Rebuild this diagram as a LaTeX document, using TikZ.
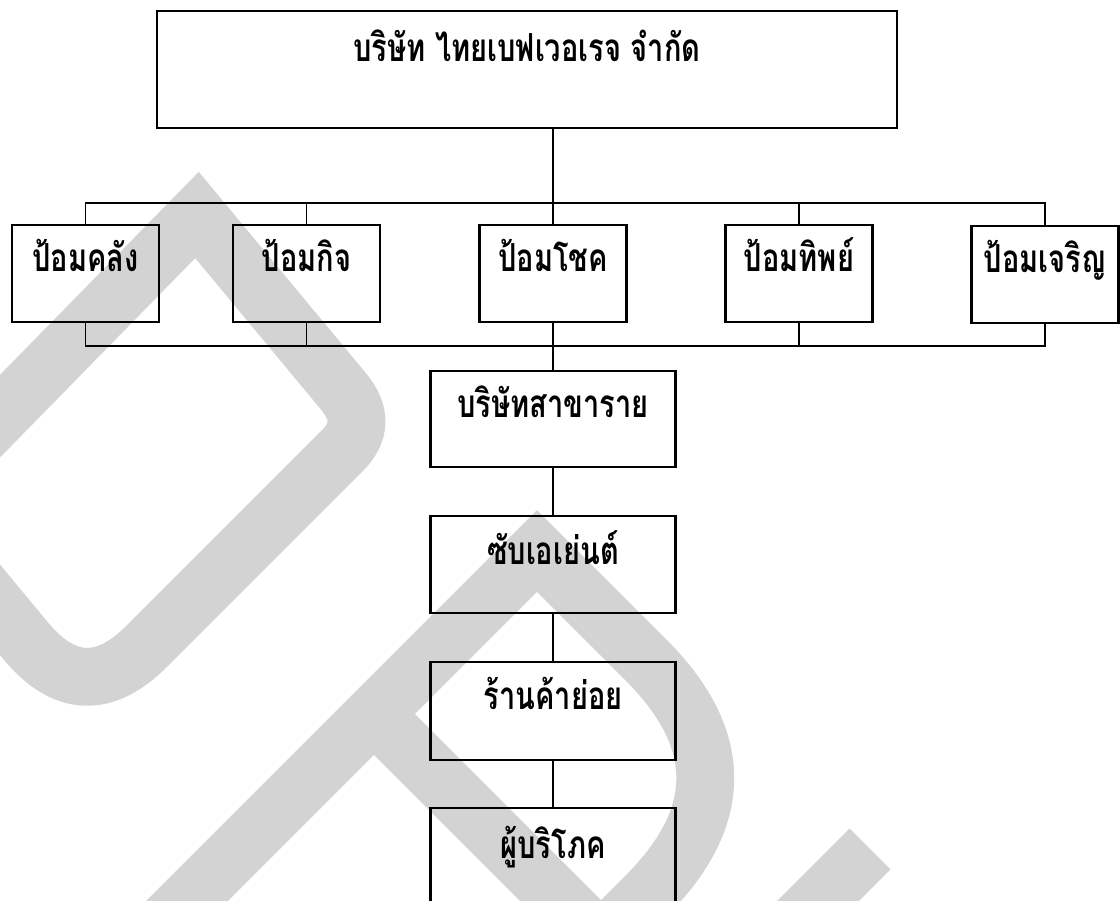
\documentclass[tikz,border=0pt]{standalone}
\usepackage{fontspec}
\newfontfamily\thaifont[Script=Thai,FakeStretch=0.75]{Loma}
\definecolor{wm}{RGB}{211,211,211}
\begin{document}
\begin{tikzpicture}[x=0.02cm,y=-0.02cm,
  wmstroke/.style={draw=wm, line width=32.9pt, line join=miter, line cap=butt},
  box/.style={draw, line width=1.3pt, rectangle, inner sep=0pt,
    font=\thaifont\bfseries\fontsize{22pt}{26pt}\selectfont},
  topbox/.style={box, minimum width=14.8cm, minimum height=2.34cm, text height=1.02cm, text depth=1.32cm},
  rowbox/.style={box, minimum width=2.94cm, minimum height=1.94cm, text height=0.94cm, text depth=1.0cm},
  lowbox/.style={box, minimum width=4.9cm},
  link/.style={line width=1pt}]
\clip (0,0) rectangle (1120,901);
\fill[white] (0,0) rectangle (1120,901);
% watermark
\draw[wmstroke] (197,215) -- (344,392) .. controls (361,413) and (361,432) .. (342,451)
  -- (146.6,646.4) .. controls (104.2,688.8) and (63.9,686.9) .. (25.6,640.7) -- (-87,505) -- cycle;
\draw[wmstroke] (150,938) -- (537,551) -- (646,660) .. controls (725,739) and (725,817) .. (646,896)
  -- (601,941) -- (365,705);
\draw[wmstroke] (870,849) -- (760,959);
% nodes
\node[topbox] (top) at (527,69.5) {บริษัท ไทยเบฟเวอเรจ จำกัด};
\node[rowbox] (p1) at (85.5,273.5) {ป้อมคลัง};
\node[rowbox] (p2) at (306.5,273.5) {ป้อมกิจ};
\node[rowbox] (p3) at (553,273.5) {ป้อมโชค};
\node[rowbox] (p4) at (799,273.5) {ป้อมทิพย์};
\node[rowbox] (p5) at (1045,274.5) {ป้อมเจริญ};
\node[lowbox, minimum height=1.92cm, text height=0.94cm, text depth=0.98cm] (s1) at (553,419) {บริษัทสาขาราย};
\node[lowbox, minimum height=1.94cm, text height=0.98cm, text depth=0.96cm] (s2) at (553,564.5) {ซับเอเย่นต์};
\node[lowbox, minimum height=1.96cm, text height=0.96cm, text depth=1.0cm] (s3) at (553,711) {ร้านค้าย่อย};
\node[lowbox, minimum height=3.04cm, text height=1.0cm, text depth=2.04cm] (s4) at (553,884) {ผู้บริโภค};
% buses
\coordinate (tbus) at (0,203);
\coordinate (bbus) at (0,346);
\draw[link] (top.south -| p3.north) -- (p3.north);
\draw[link] (p1.north) -- (p1.north |- tbus) -- (p5.north |- tbus) -- (p5.north);
\draw[link] (p2.north) -- (p2.north |- tbus);
\draw[link] (p4.north) -- (p4.north |- tbus);
\draw[link] (p1.south) -- (p1.south |- bbus) -- (p5.south |- bbus) -- (p5.south);
\draw[link] (p2.south) -- (p2.south |- bbus);
\draw[link] (p4.south) -- (p4.south |- bbus);
\draw[link] (p3.south) -- (s1.north);
\draw[link] (s1.south) -- (s2.north);
\draw[link] (s2.south) -- (s3.north);
\draw[link] (s3.south) -- (s4.north);
\end{tikzpicture}
\end{document}
